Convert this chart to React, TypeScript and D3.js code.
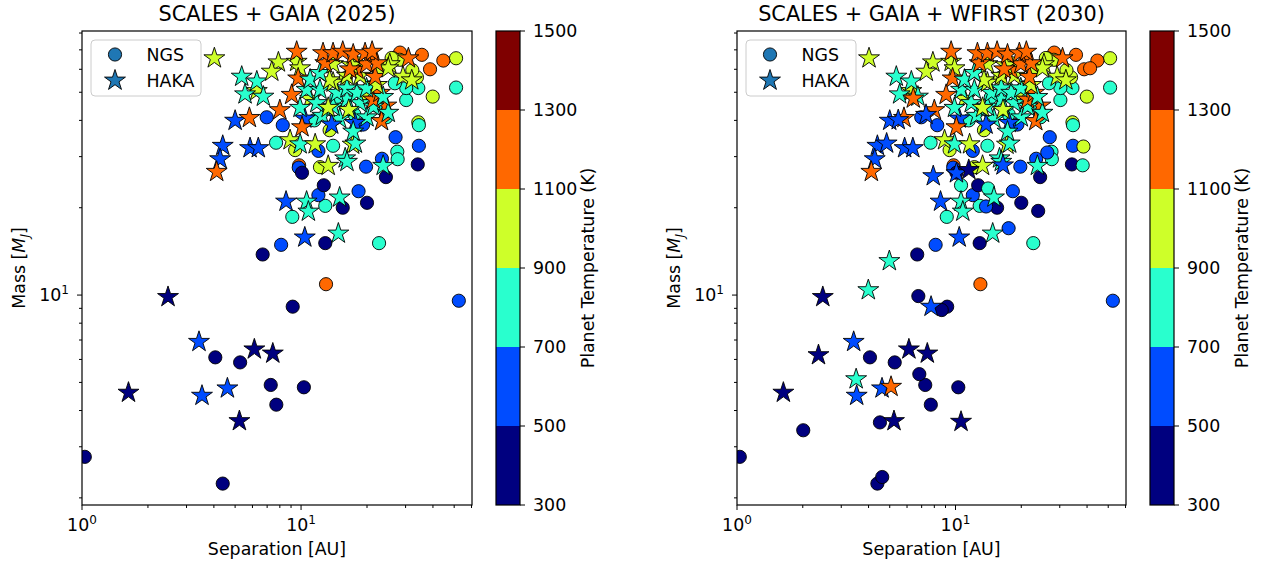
import React, { useEffect, useRef } from 'react';
import * as d3 from 'd3';

// [separation (AU), mass (MJ), planet temperature (K)]
type Pt = [number, number, number];

// NGS detections reachable with SCALES + GAIA
const ngs2025: Pt[] = [
  [9.16, 9.12, 400], [13.0, 10.9, 1200], [52.5, 9.56, 600], [4.06, 6.1, 400], [5.27, 5.86, 400],
  [7.27, 4.9, 400], [10.3, 4.81, 400], [7.71, 4.19, 400], [1.03, 2.77, 400], [4.39, 2.24, 400],
  [6.68, 13.8, 400], [8.11, 14.9, 600], [12.9, 15.1, 400], [22.7, 15.1, 800], [9.12, 18.6, 800],
  [12.9, 20.3, 800], [15.5, 20.0, 400], [12.0, 22.1, 600], [12.7, 23.9, 400], [18.3, 22.8, 600],
  [20.0, 20.8, 400], [9.8, 28.0, 1200], [9.76, 27.5, 600], [10.1, 26.4, 400], [12.2, 27.6, 1000],
  [19.8, 27.7, 600], [23.4, 29.5, 600], [24.4, 25.5, 400], [34.1, 28.2, 400], [34.5, 32.7, 600],
  [27.5, 31.2, 800], [27.6, 29.4, 800], [27.0, 35.0, 600], [34.3, 39.4, 1000], [34.5, 38.5, 800],
  [39.9, 48.3, 1000], [51.0, 51.9, 800], [51.0, 65.5, 1000], [44.6, 64.3, 1200], [38.8, 60.0, 1200],
  [35.6, 67.3, 1200], [28.3, 68.5, 1200], [30.2, 47.0, 800], [34.3, 51.7, 800], [30.2, 51.7, 800],
  [26.8, 53.7, 800], [33.8, 56.3, 1000], [32.2, 59.6, 1000], [26.3, 65.5, 1000], [28.2, 64.7, 1000],
  [25.9, 65.6, 1000], [6.97, 41.0, 600], [8.25, 38.5, 600], [7.69, 33.5, 800], [9.4, 31.6, 1000],
  [12.0, 31.4, 600], [14.0, 32.7, 800], [19.2, 38.7, 600], [22.0, 45.0, 800], [24.5, 41.0, 800],
  [20.5, 52.0, 800], [16.0, 56.0, 1000], [18.0, 63.0, 1000], [23.0, 60.0, 1000], [14.5, 48.0, 800],
  [11.5, 40.0, 800], [21.0, 66.0, 1200], [13.5, 37.0, 1000], [17.5, 42.0, 800],
];

// HAKA detections reachable with SCALES + GAIA
const haka2025: Pt[] = [
  [2.47, 9.85, 400], [3.42, 6.9, 600], [6.12, 6.5, 400], [7.43, 6.29, 400], [1.63, 4.61, 400],
  [3.53, 4.5, 600], [4.61, 4.77, 600], [5.23, 3.68, 400], [4.02, 65.5, 1000], [10.4, 15.8, 600],
  [14.8, 16.3, 800], [8.54, 21.0, 600], [10.6, 21.0, 800], [10.8, 19.4, 800], [15.0, 21.7, 800],
  [13.3, 27.9, 1000], [23.7, 27.9, 800], [5.0, 39.9, 600], [5.81, 40.8, 1200], [8.0, 43.4, 1200],
  [4.39, 32.7, 600], [4.27, 29.4, 600], [4.12, 26.6, 1200], [5.85, 32.1, 600], [6.38, 32.1, 600],
  [8.91, 34.2, 1000], [9.9, 33.1, 800], [11.6, 33.1, 1000], [17.2, 33.0, 1000], [15.9, 29.6, 800],
  [17.7, 33.3, 800], [16.2, 28.8, 800],
  [6.28, 50.5, 1000], [5.36, 56.6, 800], [6.28, 54.5, 800], [5.55, 49.2, 800], [6.73, 48.3, 800],
  [7.88, 63.4, 1000], [7.35, 58.9, 1000], [9.55, 63.7, 1000], [9.9, 60.5, 1000], [9.55, 69.0, 1200],
  [9.7, 55.8, 1200],
  [12.5, 41.5, 800], [15.0, 40.5, 800], [20.0, 41.0, 800], [11.0, 47.5, 1000], [19.0, 48.5, 1000],
  [24.5, 45.0, 1200],
  [10.4, 40.6, 600], [13.8, 38.7, 600], [17.6, 39.2, 600], [10.1, 37.9, 1200], [23.3, 39.8, 1200],
  [17.3, 36.6, 800],
  [9.89, 44.2, 800], [11.8, 45.9, 800], [14.0, 44.6, 800], [16.2, 47.2, 800], [18.6, 45.9, 800],
  [21.4, 44.6, 800], [25.0, 42.5, 800], [13.3, 44.2, 1000], [16.5, 43.5, 1000], [21.4, 47.2, 1200],
  [9.06, 49.0, 1200], [22.9, 49.8, 1200], [10.6, 51.0, 800], [12.2, 51.0, 800], [14.6, 49.8, 800],
  [16.2, 51.6, 800], [18.0, 49.8, 800], [19.9, 51.6, 800], [23.7, 48.2, 800], [14.0, 54.0, 1000],
  [22.2, 53.0, 1000],
  [13.5, 55.0, 1000], [16.2, 57.0, 1000], [18.6, 57.0, 1000], [29.2, 56.6, 1000], [32.0, 55.0, 1000],
  [21.8, 56.5, 1200], [18.0, 59.8, 1200], [11.0, 55.3, 800], [12.2, 58.3, 800],
  [14.0, 62.5, 1000], [17.0, 62.0, 1000], [25.4, 62.5, 1000], [25.0, 60.5, 1000],
  [12.9, 63.0, 1200], [16.7, 60.0, 1200], [19.9, 62.5, 1200], [22.2, 63.0, 1200],
  [12.6, 68.2, 1200], [14.0, 68.2, 1200], [15.5, 69.0, 1200], [17.3, 67.5, 1200], [19.6, 68.2, 1200],
  [21.1, 69.0, 1200], [30.9, 65.5, 1200],
];

// extra detections once WFIRST is added
const ngsAdded2030: Pt[] = [
  [6.76, 9.92, 400], [8.65, 8.88, 400], [6.83, 5.34, 400], [4.51, 3.64, 400], [2.01, 3.42, 400],
  [4.62, 2.36, 400], [17.5, 17.0, 600], [23.9, 19.5, 400], [13.8, 20.2, 600], [10.6, 23.9, 800],
  [14.1, 23.3, 800], [38.5, 32.5, 1000], [38.2, 28.0, 800], [41.3, 60.5, 1200], [26.3, 31.0, 600],
];

const hakaAdded2030: Pt[] = [
  [3.99, 10.4, 800], [7.73, 9.12, 600], [2.36, 6.21, 400], [3.51, 5.13, 800], [5.07, 4.83, 1200],
  [10.6, 3.66, 400], [4.98, 13.1, 800], [7.91, 25.7, 600], [10.1, 26.3, 600], [11.5, 27.0, 400],
  [16.5, 28.0, 600], [5.47, 40.1, 600], [7.33, 41.8, 600], [4.84, 33.3, 600], [6.41, 47.6, 1200],
];

const panelTitles = ['SCALES + GAIA (2025)', 'SCALES + GAIA + WFIRST (2030)'];
const tempBreaks = [500, 700, 900, 1100, 1300];
const tempTicks = [300, 500, 700, 900, 1100, 1300, 1500];
const tempColors = ['#00007f', '#004cff', '#29ffce', '#ceff29', '#ff6800', '#7f0000'];
const sepMajor = [1, 10];
const sepMinor = [2, 3, 4, 5, 6, 7, 8, 9, 20, 30, 40, 50, 60];
const massMajor = [10];
const massMinor = [2, 3, 4, 5, 6, 7, 8, 9, 20, 30, 40, 50, 60, 70, 80];

const W = 1266;
const H = 569;
const TOP = 31;
const BOTTOM = 505;
const CB_W = 24;
const FONT = "'DejaVu Sans', sans-serif";
const FS = 17.4;

export default function App() {
  const ref = useRef<SVGSVGElement | null>(null);

  useEffect(() => {
    const svg = d3.select(ref.current);
    svg.selectAll('*').remove();

    const color = d3.scaleThreshold<number, string>().domain(tempBreaks).range(tempColors);
    const star = d3.symbol().type(d3.symbolStar).size(136);

    const panels = [
      { ngs: ngs2025, haka: haka2025, left: 82, right: 472, cbX: 496 },
      {
        ngs: [...ngs2025, ...ngsAdded2030],
        haka: [...haka2025, ...hakaAdded2030],
        left: 737,
        right: 1126,
        cbX: 1150,
      },
    ];

    panels.forEach((p, i) => {
      const x = d3.scaleLog().domain([1, 60.3]).range([p.left, p.right]);
      const y = d3.scaleLog().domain([1.89, 81.3]).range([BOTTOM, TOP]);
      const g = svg.append('g').attr('font-family', FONT);
      const cx = (p.left + p.right) / 2;

      const clipId = `plot-clip-${i}`;
      g.append('clipPath')
        .attr('id', clipId)
        .append('rect')
        .attr('x', p.left)
        .attr('y', TOP)
        .attr('width', p.right - p.left)
        .attr('height', BOTTOM - TOP);

      const marks = g.append('g').attr('clip-path', `url(#${clipId})`);
      marks
        .selectAll('circle')
        .data(p.ngs)
        .join('circle')
        .attr('cx', (d) => x(d[0]))
        .attr('cy', (d) => y(d[1]))
        .attr('r', 6.6)
        .attr('fill', (d) => color(d[2]))
        .attr('stroke', '#000')
        .attr('stroke-width', 0.9);
      marks
        .selectAll('path')
        .data(p.haka)
        .join('path')
        .attr('d', star)
        .attr('transform', (d) => `translate(${x(d[0])},${y(d[1])})`)
        .attr('fill', (d) => color(d[2]))
        .attr('stroke', '#000')
        .attr('stroke-width', 0.9);

      // frame
      g.append('rect')
        .attr('x', p.left)
        .attr('y', TOP)
        .attr('width', p.right - p.left)
        .attr('height', BOTTOM - TOP)
        .attr('fill', 'none')
        .attr('stroke', '#000')
        .attr('stroke-width', 1.2);

      // x ticks
      const tick = (v: number, len: number) =>
        g.append('line').attr('x1', x(v)).attr('x2', x(v)).attr('y1', BOTTOM).attr('y2', BOTTOM + len)
          .attr('stroke', '#000').attr('stroke-width', 1);
      sepMinor.forEach((v) => tick(v, 3));
      sepMajor.forEach((v, k) => {
        tick(v, 5);
        const t = g.append('text').attr('x', x(v)).attr('y', 531).attr('text-anchor', 'middle')
          .attr('font-size', FS).attr('fill', '#000');
        t.append('tspan').text('10');
        t.append('tspan').attr('dy', -7).attr('font-size', 12).text(String(k));
      });

      // y ticks
      const ytick = (v: number, len: number) =>
        g.append('line').attr('x1', p.left - len).attr('x2', p.left).attr('y1', y(v)).attr('y2', y(v))
          .attr('stroke', '#000').attr('stroke-width', 1);
      massMinor.forEach((v) => ytick(v, 3));
      massMajor.forEach((v) => {
        ytick(v, 5);
        const t = g.append('text').attr('x', p.left - 13).attr('y', y(v) + 6).attr('text-anchor', 'end')
          .attr('font-size', FS).attr('fill', '#000');
        t.append('tspan').text('10');
        t.append('tspan').attr('dy', -7).attr('font-size', 12).text('1');
      });

      // title and axis labels
      g.append('text').attr('x', cx).attr('y', 21).attr('text-anchor', 'middle')
        .attr('font-size', 20.8).attr('fill', '#000').text(panelTitles[i]);
      g.append('text').attr('x', cx).attr('y', 555).attr('text-anchor', 'middle')
        .attr('font-size', FS).attr('fill', '#000').text('Separation [AU]');
      const yl = g.append('text')
        .attr('transform', `translate(${p.left - 57},${(TOP + BOTTOM) / 2}) rotate(-90)`)
        .attr('text-anchor', 'middle').attr('font-size', FS).attr('fill', '#000');
      yl.append('tspan').text('Mass [');
      yl.append('tspan').attr('font-style', 'italic').text('M');
      yl.append('tspan').attr('font-style', 'italic').attr('font-size', 12).attr('dy', 4).text('J');
      yl.append('tspan').attr('dy', -4).text(']');

      // legend
      const lg = g.append('g').attr('transform', `translate(${p.left + 9},40)`);
      lg.append('rect').attr('width', 110).attr('height', 56).attr('rx', 4)
        .attr('fill', '#fff').attr('fill-opacity', 0.8).attr('stroke', '#cccccc').attr('stroke-width', 1);
      lg.append('circle').attr('cx', 24).attr('cy', 14.5).attr('r', 6.6)
        .attr('fill', '#1f77b4').attr('stroke', '#000').attr('stroke-width', 0.9);
      lg.append('path').attr('d', star).attr('transform', 'translate(24,40.5)')
        .attr('fill', '#1f77b4').attr('stroke', '#000').attr('stroke-width', 0.9);
      lg.append('text').attr('x', 55.5).attr('y', 20.5).attr('font-size', FS).attr('fill', '#000').text('NGS');
      lg.append('text').attr('x', 55.5).attr('y', 46.5).attr('font-size', FS).attr('fill', '#000').text('HAKA');

      // colorbar
      const cy = d3.scaleLinear().domain([300, 1500]).range([BOTTOM, TOP]);
      const bins = tempTicks.slice(0, -1).map((lo, k) => [lo, tempTicks[k + 1]]);
      g.selectAll('rect.cb')
        .data(bins)
        .join('rect')
        .attr('class', 'cb')
        .attr('x', p.cbX)
        .attr('y', (d) => cy(d[1]))
        .attr('width', CB_W)
        .attr('height', (d) => cy(d[0]) - cy(d[1]))
        .attr('fill', (d) => color(d[0]));
      g.append('rect').attr('x', p.cbX).attr('y', TOP).attr('width', CB_W).attr('height', BOTTOM - TOP)
        .attr('fill', 'none').attr('stroke', '#000').attr('stroke-width', 1.2);
      tempTicks.forEach((v) => {
        g.append('line').attr('x1', p.cbX + CB_W).attr('x2', p.cbX + CB_W + 5)
          .attr('y1', cy(v)).attr('y2', cy(v)).attr('stroke', '#000').attr('stroke-width', 1);
        g.append('text').attr('x', p.cbX + CB_W + 13).attr('y', cy(v) + 6)
          .attr('font-size', FS).attr('fill', '#000').text(String(v));
      });
      g.append('text')
        .attr('transform', `translate(${p.cbX + 98},${(TOP + BOTTOM) / 2}) rotate(-90)`)
        .attr('text-anchor', 'middle').attr('font-size', FS).attr('fill', '#000')
        .text('Planet Temperature (K)');
    });
  }, []);

  return (
    <div style={{ position: 'absolute', left: 0, top: 0, width: W, height: H, background: '#fff' }}>
      <svg ref={ref} width={W} height={H} viewBox={`0 0 ${W} ${H}`} />
    </div>
  );
}
